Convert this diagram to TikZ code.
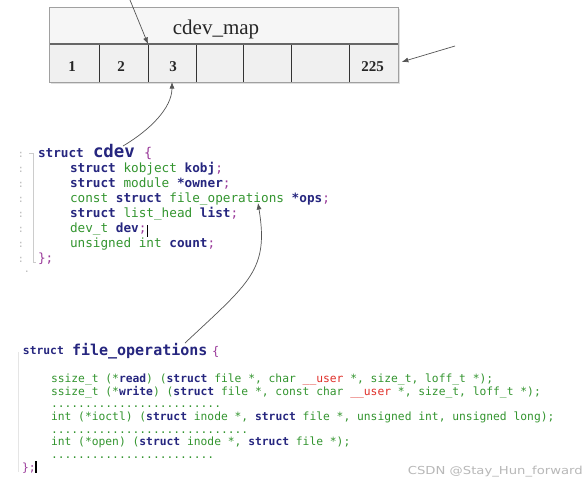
\documentclass[tikz,border=0pt]{standalone}
\usepackage{fontspec}
\usepackage{graphicx}
\setmainfont{Liberation Serif}
\newfontfamily\codefont{DejaVu Sans Mono}
\newfontfamily\markfont{DejaVu Sans}
\usetikzlibrary{arrows.meta}
\definecolor{kwc}{HTML}{26267F}
\definecolor{tyc}{HTML}{33952F}
\definecolor{puc}{HTML}{9A3A9A}
\definecolor{rdc}{HTML}{E0302A}
\definecolor{arc}{HTML}{555555}
\definecolor{cellf}{HTML}{F0F0F0}
\definecolor{headf}{HTML}{F6F6F6}
\definecolor{bordc}{HTML}{A0A0A0}
\definecolor{divc}{HTML}{333333}
\definecolor{wmc}{HTML}{B8B8B8}
\newcommand\Kw[1]{{\color{kwc}\bfseries #1}}
\newcommand\Ty[1]{{\color{tyc}#1}}
\newcommand\Pu[1]{{\color{puc}#1}}
\newcommand\Rd[1]{{\color{rdc}#1}}
\tikzset{
  codeA/.style={anchor=base west, inner sep=0pt, outer sep=0pt, font=\codefont\fontsize{12.7}{15}\selectfont},
  codeB/.style={anchor=base west, inner sep=0pt, outer sep=0pt, font=\codefont\fontsize{11.3}{13}\selectfont},
  cellbox/.style={anchor=north west, inner sep=0pt, outer sep=0pt, minimum height=38pt, fill=cellf},
  numtxt/.style={anchor=base, inner sep=0pt, font=\fontsize{15}{18}\selectfont\bfseries, text=black!85},
  gut/.style={anchor=base, inner sep=0pt, text=gray!55, font=\codefont\fontsize{10}{11}\selectfont},
  arr/.style={draw=arc, line width=0.7pt, -{Latex[length=6.5pt,width=5pt]}},
}
\begin{document}
\begin{tikzpicture}[x=1pt,y=-1pt]
\useasboundingbox (0,0) rectangle (587,483);
\fill[white] (0,0) rectangle (587,483);

% ---------- cdev_map table ----------
\fill[gray!25] (51,9) rectangle (400,84);
\node[cellbox, fill=headf, minimum width=349pt, minimum height=37pt] (map) at (49,7) {};
\node[cellbox, minimum width=50pt] (c1) at (49,44) {};
\node[cellbox, minimum width=49pt] (c2) at (99,44) {};
\node[cellbox, minimum width=48pt] (c3) at (148,44) {};
\node[cellbox, minimum width=47pt] (c4) at (196,44) {};
\node[cellbox, minimum width=48pt] (c5) at (243,44) {};
\node[cellbox, minimum width=58pt] (c6) at (291,44) {};
\node[cellbox, minimum width=49pt] (c7) at (349,44) {};
\foreach \c in {c2,c3,c4,c5,c6,c7}{
  \draw[divc, line width=0.8pt] (\c.north west) -- (\c.south west);
}
\draw[gray!80!black, line width=1.3pt] (map.south west) -- (map.south east);
\draw[bordc, line width=0.8pt] (map.north west) rectangle (c7.south east);
\node[anchor=base, inner sep=0pt, font=\fontsize{21}{24}\selectfont, text=black!85] (maptitle) at (216,34) {cdev\_map};
\node[numtxt] (n1) at (72,71) {1};
\node[numtxt] (n2) at (121,71) {2};
\node[numtxt] (n3) at (173,71) {3};
\node[numtxt] (n7) at (372.5,71) {225};

% ---------- struct cdev ----------
\foreach \yy in {157,172,187,202,217,232,247,262}{
  \node[gut] at (21,\yy) {:};
}
\node[gut] at (27,272) {.};
\draw[gray!40, line width=0.6pt] (29,153) -- (33,153) -- (33,262) -- (36,262);

\node[codeA] (cd1) at (38,157) {\Kw{struct}};
\node[anchor=base west, inner sep=0pt, outer sep=0pt, font=\codefont\fontsize{17.4}{20}\selectfont\bfseries, text=kwc] (cdevname) at (93,157) {cdev};
\node[anchor=base west, inner sep=0pt, outer sep=0pt, font=\codefont\fontsize{13.5}{16}\selectfont, text=puc] (cdbrace) at (144,157) {\{};
\node[codeA] (cd2) at (70,172) {\Kw{struct}\ \Ty{kobject}\ \Kw{kobj}\Pu{;}};
\node[codeA] (cd3) at (70,187) {\Kw{struct}\ \Ty{module}\ \Kw{*owner}\Pu{;}};
\node[codeA] (cd4) at (70,202) {\Ty{const}\ \Kw{struct}\ \Ty{file\_operations}\ \Kw{*ops}\Pu{;}};
\node[codeA] (cd5) at (70,217) {\Kw{struct}\ \Ty{list\_head}\ \Kw{list}\Pu{;}};
\node[codeA] (cd6) at (70,232) {\Ty{dev\_t}\ \Kw{dev}\Pu{;}};
\node[codeA] (cd7) at (70,247) {\Ty{unsigned\ int}\ \Kw{count}\Pu{;}};
\node[codeA] (cd8) at (38,262) {\Pu{\};}};
\draw[black, line width=1.6pt] (147.5,225) -- (147.5,237);

% ---------- struct file_operations ----------
\draw[gray!20, line width=0.6pt] (18,352) -- (18,472);
\node[codeB] (fh1) at (23,354) {\Kw{struct}};
\node[anchor=base west, inner sep=0pt, outer sep=0pt, font=\codefont\fontsize{15}{18}\selectfont\bfseries, text=kwc] (foname) at (72,355) {file\_operations};
\node[anchor=base west, inner sep=0pt, outer sep=0pt, font=\codefont\fontsize{12}{14}\selectfont, text=puc] (fobrace) at (212,355) {\{};
\node[codeB] (f1) at (51,382) {\Ty{ssize\_t\ (*}\Kw{read}\Ty{)\ (}\Kw{struct}\Ty{\ file\ *,\ char\ }\Rd{\_\_user}\Ty{\ *,\ size\_t,\ loff\_t\ *);}};
\node[codeB] (f2) at (51,395) {\Ty{ssize\_t\ (*}\Kw{write}\Ty{)\ (}\Kw{struct}\Ty{\ file\ *,\ const\ char\ }\Rd{\_\_user}\Ty{\ *,\ size\_t,\ loff\_t\ *);}};
\node[codeB] (d1) at (51,407) {\Ty{.........................}};
\node[codeB] (f3) at (51,420) {\Ty{int\ (*ioctl)\ (}\Kw{struct}\Ty{\ inode\ *,\ }\Kw{struct}\Ty{\ file\ *,\ unsigned\ int,\ unsigned\ long);}};
\node[codeB] (d2) at (51,433) {\Ty{.............................}};
\node[codeB] (f4) at (51,445) {\Ty{int\ (*open)\ (}\Kw{struct}\Ty{\ inode\ *,\ }\Kw{struct}\Ty{\ file\ *);}};
\node[codeB] (d3) at (51,458) {\Ty{........................}};
\node[codeB] (f5) at (22,471) {\Pu{\};}};
\draw[black, line width=1.6pt] (36,461) -- (36,473);

% ---------- arrows ----------
\coordinate (a1s) at (130,0);
\draw[arr] (a1s) -- (c3.north west);
\coordinate (a2s) at (455,46);
\draw[arr, shorten >=4pt] (a2s) -- (c7.east);
\coordinate (a3s) at (123,146);
\draw[arr] (a3s) .. controls (150,130) and (172,108) .. (c3.south);
\coordinate (a4s) at (185,343);
\coordinate (a4e) at (258,203);
\draw[arr] (a4s) .. controls (250,282) and (269,270) .. (a4e);

% ---------- watermark ----------
\node[anchor=east, inner sep=0pt, text=wmc, font=\markfont\fontsize{11}{13}\selectfont] (wm) at (583,472) {\scalebox{1.2}[1]{CSDN @Stay\_Hun\_forward}};
\end{tikzpicture}
\end{document}
